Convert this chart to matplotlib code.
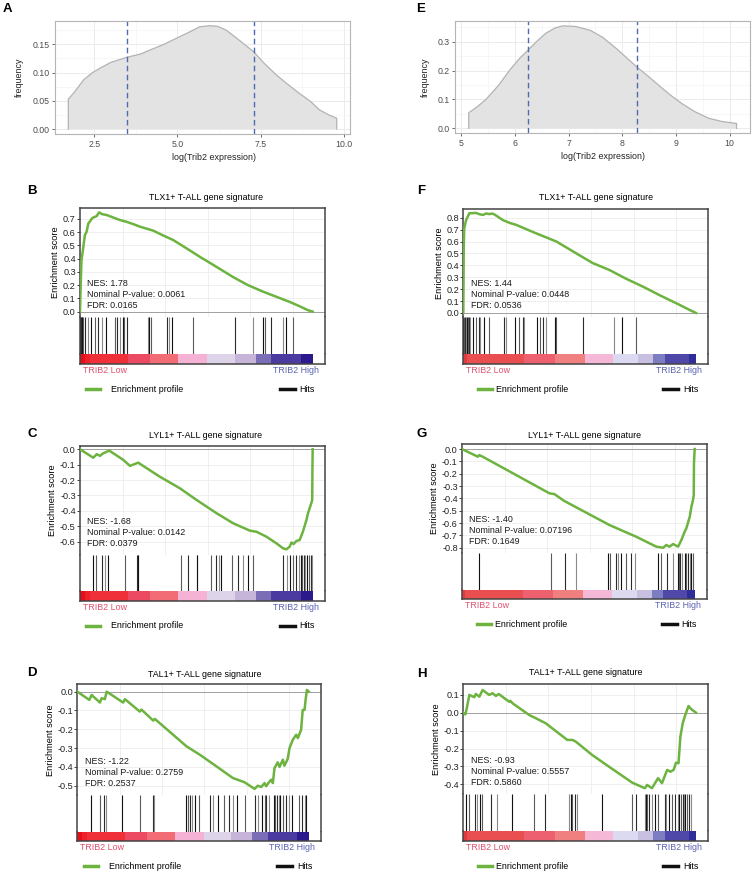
import numpy as np
import matplotlib
matplotlib.use("Agg")
import matplotlib.pyplot as plt
from matplotlib.lines import Line2D

plt.rcParams['font.family'] = ['Liberation Sans', 'DejaVu Sans']
plt.rcParams['axes.unicode_minus'] = False

# ---------------- data: density panels (A, E) ----------------
dens_a_x = [1.72, 1.90, 2.18, 2.45, 2.68, 3.0, 3.48, 3.9, 4.18, 4.6, 4.98, 5.3, 5.67,
            5.97, 6.2, 6.47, 6.8, 7.29, 7.6, 7.97, 8.3, 8.67, 9.0, 9.27, 9.55, 9.79]
dens_a_y = [0.053, 0.065, 0.087, 0.100, 0.108, 0.118, 0.127, 0.133, 0.140, 0.150, 0.161, 0.170, 0.181,
            0.183, 0.182, 0.175, 0.160, 0.137, 0.117, 0.096, 0.080, 0.063, 0.049, 0.034, 0.025, 0.019]
cuts_a = [3.49, 7.29]

dens_e_x = [5.14, 5.3, 5.46, 5.7, 5.90, 6.1, 6.24, 6.4, 6.58, 6.75, 6.89, 7.13, 7.4, 7.63,
            7.9, 8.27, 8.5, 8.68, 8.9, 9.11, 9.35, 9.61, 9.85, 10.13]
dens_e_y = [0.054, 0.075, 0.100, 0.150, 0.201, 0.245, 0.270, 0.300, 0.330, 0.348, 0.355, 0.353, 0.340, 0.316,
            0.275, 0.213, 0.178, 0.149, 0.115, 0.086, 0.058, 0.035, 0.024, 0.017]
cuts_e = [6.24, 8.27]

# ---------------- data: GSEA panels (rank position in % of list) ----------------
titles = {'B': 'TLX1+ T-ALL gene signature', 'C': 'LYL1+ T-ALL gene signature',
          'D': 'TAL1+ T-ALL gene signature', 'F': 'TLX1+ T-ALL gene signature',
          'G': 'LYL1+ T-ALL gene signature', 'H': 'TAL1+ T-ALL gene signature'}

stats = {'B': ['NES: 1.78', 'Nominal P-value: 0.0061', 'FDR: 0.0165'],
         'C': ['NES: -1.68', 'Nominal P-value: 0.0142', 'FDR: 0.0379'],
         'D': ['NES: -1.22', 'Nominal P-value: 0.2759', 'FDR: 0.2537'],
         'F': ['NES: 1.44', 'Nominal P-value: 0.0448', 'FDR: 0.0536'],
         'G': ['NES: -1.40', 'Nominal P-value: 0.07196', 'FDR: 0.1649'],
         'H': ['NES: -0.93', 'Nominal P-value: 0.5557', 'FDR: 0.5860']}

es_b_x = [0, 0.3, 0.6, 1.3, 2.1, 2.8, 3.6, 4.3, 5.0, 5.8, 7.2, 7.7, 8.2, 9.4, 11.5, 14.2, 17.2, 20.0,
          22.8, 25.8, 31.5, 35.6, 40.0, 45.5, 51.5, 58.4, 65.8, 72.1, 78.7, 84.6, 90.1, 94.4, 98.0, 100]
es_b_y = [0, 0.20, 0.38, 0.47, 0.577, 0.60, 0.665, 0.68, 0.70, 0.71, 0.72, 0.735, 0.748, 0.735, 0.728,
          0.71, 0.69, 0.677, 0.66, 0.64, 0.61, 0.575, 0.54, 0.48, 0.413, 0.34, 0.26, 0.20, 0.15, 0.11,
          0.073, 0.04, 0.01, 0.0]
hits_b = [0.1, 0.3, 0.6, 0.8, 1.0, 1.3, 2.1, 3.6, 4.9, 6.4, 7.9, 9.4, 11.2, 15.0, 15.9, 17.2, 18.3,
          19.1, 20.0, 29.3, 29.7, 30.5, 37.2, 38.4, 39.4, 48.4, 66.7, 74.4, 78.7, 79.6, 82.3, 87.3,
          88.4, 91.5]

es_c_x = [0, 5.7, 7.2, 8.6, 10.0, 12.6, 18.6, 21.5, 25.0, 34.3, 42.9, 50.1, 58.7, 65.8, 73.0, 75.8,
          80.1, 84.4, 87.3, 88.7, 90.1, 90.9, 91.8, 93.0, 94.4, 95.8, 97.3, 98.0, 99.4, 99.8, 99.9, 100]
es_c_y = [0, -0.055, -0.032, -0.043, -0.026, -0.009, -0.069, -0.108, -0.087, -0.178, -0.253, -0.329,
          -0.415, -0.48, -0.528, -0.535, -0.567, -0.61, -0.643, -0.649, -0.632, -0.605, -0.615, -0.595,
          -0.589, -0.535, -0.46, -0.415, -0.35, -0.33, -0.12, 0.0]
hits_c = [5.7, 6.9, 9.3, 10.7, 12.1, 19.3, 24.3, 24.8, 25.0, 43.3, 46.5, 50.1, 50.4, 56.1, 58.4, 59.8,
          60.8, 65.5, 67.9, 70.1, 72.2, 74.4, 87.3, 89.0, 90.1, 91.5, 92.7, 94.1, 94.8, 95.5, 96.2,
          96.9, 97.5, 98.4, 99.4, 99.9]

es_d_x = [0, 5.2, 6.2, 9.8, 10.5, 11.9, 12.7, 19.8, 20.6, 27.0, 27.7, 32.8, 33.5, 47.2, 52.9, 60.1,
          67.2, 72.3, 76.6, 78.0, 79.5, 80.9, 81.6, 83.1, 83.8, 84.5, 85.2, 86.6, 87.4, 88.8, 89.5,
          90.9, 91.7, 93.1, 94.6, 95.3, 96.7, 97.4, 98.2, 98.6, 99.2, 100]
es_d_y = [0, -0.044, -0.018, -0.058, -0.035, -0.040, 0.0, -0.058, -0.04, -0.106, -0.095, -0.154,
          -0.145, -0.291, -0.335, -0.397, -0.459, -0.482, -0.517, -0.50, -0.507, -0.486, -0.503,
          -0.477, -0.468, -0.486, -0.406, -0.376, -0.40, -0.362, -0.394, -0.358, -0.30, -0.256,
          -0.229, -0.247, -0.203, -0.097, -0.097, -0.048, 0.009, 0.0]
hits_d = [5.8, 9.8, 11.6, 12.4, 19.5, 27.0, 32.5, 33.1, 46.8, 47.8, 48.9, 49.7, 50.7, 52.6, 57.5,
          58.6, 60.8, 63.2, 65.5, 67.2, 69.0, 72.3, 76.6, 78.0, 79.9, 80.9, 81.6, 82.8, 84.9, 85.6,
          86.4, 87.1, 87.8, 88.8, 90.3, 91.4, 92.8, 95.7, 97.2, 98.2, 98.9]

es_f_x = [0, 0.2, 0.4, 1.2, 2.6, 5.5, 6.8, 8.4, 9.8, 11.2, 12.4, 13.4, 17.0, 20.1, 22.7, 29.9, 40.0,
          48.6, 55.5, 62.9, 69.7, 77.3, 84.8, 91.7, 97.4, 100]
es_f_y = [0, 0.55, 0.71, 0.78, 0.837, 0.84, 0.83, 0.823, 0.835, 0.83, 0.835, 0.827, 0.78, 0.755, 0.74,
          0.68, 0.60, 0.50, 0.42, 0.36, 0.29, 0.22, 0.145, 0.08, 0.024, 0.0]
hits_f = [0, 0.4, 0.8, 1.2, 1.7, 2.1, 2.6, 3.0, 4.0, 5.5, 6.6, 7.2, 9.1, 11.2, 17.7, 18.4, 22.4, 23.9,
          25.6, 26.3, 31.6, 32.8, 34.2, 35.7, 39.3, 40.0, 51.5, 64.7, 68.4, 74.2]

es_g_x = [0, 6.8, 7.4, 8.9, 37.6, 39.7, 43.9, 63.4, 74.9, 83.5, 86.4, 87.8, 89.2, 90.7, 92.9, 94.3,
          95.7, 96.4, 97.9, 98.6, 99.3, 99.6, 99.7, 100]
es_g_y = [0, -0.062, -0.049, -0.062, -0.359, -0.365, -0.42, -0.616, -0.711, -0.791, -0.80, -0.778,
          -0.791, -0.77, -0.791, -0.737, -0.67, -0.643, -0.548, -0.467, -0.413, -0.373, -0.116, 0.0]
hits_g = [7.4, 38.3, 44.1, 49.1, 62.7, 63.8, 66.0, 67.0, 68.4, 70.6, 72.8, 74.2, 84.2, 85.7, 88.1,
          90.7, 92.9, 93.3, 93.9, 94.7, 95.7, 96.4, 97.2, 97.9, 98.6, 99.3]

es_h_x = [0, 0.9, 1.5, 2.6, 4.7, 5.4, 6.9, 8.3, 11.1, 12.6, 14.0, 15.2, 19.7, 20.2, 21.2, 28.3, 30.4,
          35.4, 44.7, 46.9, 48.3, 55.4, 62.6, 72.6, 78.0, 79.0, 81.1, 83.7, 85.4, 87.6, 89.0, 90.4,
          91.4, 92.5, 93.3, 94.3, 95.4, 96.8, 98.0, 100]
es_h_y = [0, -0.01, 0.025, 0.099, 0.086, 0.104, 0.089, 0.126, 0.099, 0.108, 0.093, 0.104, 0.061,
          0.066, 0.052, -0.013, -0.026, -0.059, -0.152, -0.152, -0.161, -0.236, -0.301, -0.39, -0.421,
          -0.403, -0.421, -0.365, -0.393, -0.319, -0.329, -0.319, -0.279, -0.282, -0.134, -0.059,
          -0.013, 0.037, 0.019, 0.0]
hits_h = [1.2, 2.3, 5.1, 6.1, 7.1, 8.0, 11.9, 14.3, 20.9, 30.4, 35.1, 45.4, 46.1, 46.9, 48.0, 49.0,
          59.7, 72.6, 74.3, 78.0, 78.6, 79.0, 80.0, 81.2, 82.3, 83.7, 86.6, 87.2, 88.3, 89.7, 90.8,
          92.3, 92.8, 93.7, 94.3, 94.7, 95.1, 96.2, 96.8, 98.0]

# ranked-list colour bars (left column data set / right column data set)
bar_left_edges = [0, 2.1, 4.3, 20.7, 30.0, 42.2, 54.6, 66.5, 75.5, 82.3, 95.1, 100]
bar_left_cols = ['#e3101b', '#ee2028', '#ef3038', '#ec4a63', '#f26c75', '#f5b2d5',
                 '#ddd4ea', '#c6b5d9', '#7b6db6', '#4b3a9f', '#2b1a8c']
bar_right_edges = [0, 1.5, 26.3, 39.2, 52.2, 64.4, 75.2, 81.6, 86.6, 96.9, 100]
bar_right_cols = ['#e03a40', '#e94e51', '#ec6070', '#f08080', '#f5b8d6',
                  '#dcdaf0', '#c8c0e0', '#7d7ec2', '#5048a8', '#2f2d99']

FS = 6.4

# ---------------- figure ----------------
W, H = 753, 872
fig = plt.figure(figsize=(W / 100, H / 100), dpi=100)


def rect(x0, y0, x1, y1):
    return [x0 / W, 1 - y1 / H, (x1 - x0) / W, (y1 - y0) / H]


def letter(s, x, y):
    fig.text(x / W, 1 - y / H, s, fontsize=9.5, fontweight='bold', ha='left', va='top')


def density_panel(r, xs, ys, cuts, xlim, ylim, xmaj, xmin, ymaj, ymin, yfmt, ylab_x):
    ax = fig.add_axes(r)
    ax.set_xlim(*xlim)
    ax.set_ylim(*ylim)
    ax.set_xticks(xmaj)
    ax.set_xticks(xmin, minor=True)
    ax.set_yticks(ymaj)
    ax.set_yticks(ymin, minor=True)
    ax.set_yticklabels([yfmt % v for v in ymaj])
    ax.grid(which='major', color='#ebebeb', lw=0.7)
    ax.grid(which='minor', color='#f2f2f2', lw=0.4)
    ax.set_axisbelow(True)
    for sp in ax.spines.values():
        sp.set_color('#b5b5b5')
        sp.set_linewidth(0.8)
    ax.tick_params(which='major', length=2.5, width=0.6, color='#555555',
                   labelsize=6.3, labelcolor='#4d4d4d', pad=1.5)
    ax.tick_params(which='minor', length=0)
    xs_f = [xs[0]] + xs + [xs[-1]]
    ys_f = [0] + ys + [0]
    ax.fill(xs_f, ys_f, color='#e3e3e3', lw=0)
    ax.plot(xs_f, ys_f, color='#b3b3b3', lw=0.9)
    for c in cuts:
        ax.axvline(c, color='#4f6bb0', lw=1.0, dashes=(4, 2.5))
    ax.set_xlabel('log(Trib2 expression)', fontsize=FS, color='#222222')
    ax.set_ylabel('frequency', fontsize=FS, color='#222222')
    ax.xaxis.set_label_coords(0.5, -0.165)
    ax.yaxis.set_label_coords(ylab_x, 0.5)
    return ax


ax_a = density_panel(rect(55, 20.6, 350, 134.2), dens_a_x, dens_a_y, cuts_a, (1.32, 10.19),
                     (-0.0092, 0.192), [2.5, 5.0, 7.5, 10.0], [3.75, 6.25, 8.75],
                     [0, 0.05, 0.10, 0.15], [0.025, 0.075, 0.125, 0.175], '%.2f', -0.105)
ax_a.set_xticklabels(['2.5', '5.0', '7.5', '10.0'])
ax_a.xaxis.set_label_coords(0.54, -0.165)

density_panel(rect(455.3, 20.7, 750, 133.5), dens_e_x, dens_e_y, cuts_e, (4.89, 10.38), (-0.0178, 0.373),
              [5, 6, 7, 8, 9, 10], [5.5, 6.5, 7.5, 8.5, 9.5], [0, 0.1, 0.2, 0.3],
              [0.05, 0.15, 0.25, 0.35], '%.1f', -0.085)

letter('A', 3, 3)
letter('E', 416.5, 3)


def gsea_panel(key, box, es_x, es_y, hits, edges, cols, ylim, yticks, title_x, title_y,
               legend_off, legend_txt_off):
    x0, x1, y_top, y_es, y_hit, y_bar = box
    ax = fig.add_axes(rect(x0, y_top, x1, y_es))
    ah = fig.add_axes(rect(x0, y_es, x1, y_hit))
    ab = fig.add_axes(rect(x0, y_hit, x1, y_bar))
    xmax = 105.3
    for a in (ax, ah, ab):
        a.set_xlim(0, xmax)
        a.set_xticks([])
        for sp in a.spines.values():
            sp.set_color('#444444')
            sp.set_linewidth(1.1)
    # enrichment score
    ax.set_ylim(*ylim)
    ax.set_yticks(yticks)
    ax.set_yticklabels(['%.1f' % v for v in yticks])
    for gx in np.arange(18.3, 100, 18.3):
        ax.axvline(gx, color='#ececec', lw=0.6, zorder=0)
    for gy in yticks:
        ax.axhline(gy, color='#ececec', lw=0.6, zorder=0)
    ax.axhline(0, color='#a0a0a0', lw=0.7, zorder=1)
    ax.plot(es_x, es_y, color='#6db33f', lw=1.8, zorder=3)
    ax.tick_params(axis='y', length=2, width=0.6, labelsize=6.6, pad=1, colors='#222222')
    ax.spines['bottom'].set_color('#bdbdbd')
    ax.spines['bottom'].set_linewidth(0.7)
    ax.set_ylabel('Enrichment score', fontsize=6.6, labelpad=2)
    ax.text(0.03, 0.065, '\n'.join(stats[key]), transform=ax.transAxes, fontsize=FS,
            ha='left', va='bottom', linespacing=1.3, color='#1a1a1a')
    fig.text(title_x / W, 1 - title_y / H, titles[key], fontsize=FS, ha='center', va='center')
    # hits
    ah.set_ylim(0, 1)
    ah.set_yticks([])
    hit_cols = ['#111111', '#5a5a5a', '#2a2a2a', '#8a8a8a']
    ah.vlines(hits, 0, 1, colors=[hit_cols[i % 4] for i in range(len(hits))], lw=0.8)
    ah.spines['top'].set_visible(False)
    ah.spines['bottom'].set_color('#bdbdbd')
    ah.spines['bottom'].set_linewidth(0.7)
    # ranked list colour bar
    ab.set_ylim(0, 1)
    ab.set_yticks([])
    for i, c in enumerate(cols):
        ab.axvspan(edges[i], edges[i + 1], color=c, lw=0)
    ab.spines['top'].set_visible(False)
    # labels below
    fig.text((x0 + 3) / W, 1 - (y_bar + 6.5) / H, 'TRIB2 Low', color='#e0506e', fontsize=FS,
             ha='left', va='center')
    fig.text((x1 - 6) / W, 1 - (y_bar + 6.5) / H, 'TRIB2 High', color='#5a62b0', fontsize=FS,
             ha='right', va='center')
    ly = 1 - (y_bar + 25) / H
    fig.add_artist(Line2D([(x0 + legend_off) / W, (x0 + legend_off + 14) / W], [ly, ly],
                          color='#6db33f', lw=2.5))
    fig.text((x0 + legend_txt_off) / W, ly, 'Enrichment profile', fontsize=FS, ha='left', va='center')
    fig.add_artist(Line2D([(x0 + 200) / W, (x0 + 215) / W], [ly, ly], color='#111111', lw=2.5))
    fig.text((x0 + 219.5) / W, ly, 'Hits', fontsize=FS, ha='left', va='center')


gsea_panel('B', (80, 325, 208, 317, 354, 364), es_b_x, es_b_y, hits_b, bar_left_edges, bar_left_cols,
           (-0.041, 0.781), [0.0, 0.1, 0.2, 0.3, 0.4, 0.5, 0.6, 0.7], 206, 198, 6, 31)
gsea_panel('C', (80, 325, 445.7, 555, 591, 601), es_c_x, es_c_y, hits_c, bar_left_edges, bar_left_cols,
           (-0.686, 0.023), [0.0, -0.1, -0.2, -0.3, -0.4, -0.5, -0.6], 205.7, 435, 6, 31)
gsea_panel('D', (77.3, 321, 684.3, 795.3, 831.7, 841), es_d_x, es_d_y, hits_d, bar_left_edges,
           bar_left_cols, (-0.551, 0.039), [0.0, -0.1, -0.2, -0.3, -0.4, -0.5], 204.5, 674.3, 7, 32)
gsea_panel('F', (463.3, 708.3, 209, 317, 354.3, 364.3), es_f_x, es_f_y, hits_f, bar_right_edges,
           bar_right_cols, (-0.034, 0.873), [0.0, 0.1, 0.2, 0.3, 0.4, 0.5, 0.6, 0.7, 0.8], 595.7, 198, 15, 33)
gsea_panel('G', (462, 707, 444, 553.3, 590, 599.3), es_g_x, es_g_y, hits_g, bar_right_edges,
           bar_right_cols, (-0.845, 0.041), [0.0, -0.1, -0.2, -0.3, -0.4, -0.5, -0.6, -0.7, -0.8],
           584.3, 435, 15, 33)
gsea_panel('H', (463.3, 708.3, 684.3, 794.3, 831, 841), es_h_x, es_h_y, hits_h, bar_right_edges,
           bar_right_cols, (-0.455, 0.158), [0.1, 0.0, -0.1, -0.2, -0.3, -0.4], 586, 672.7, 15, 33)

letter('B', 27.3, 185)
letter('C', 27.3, 428.3)
letter('D', 27.3, 666.7)
letter('F', 417.5, 185)
letter('G', 416.7, 428.3)
letter('H', 416.7, 668.3)

fig.savefig('out.png', dpi=100)
